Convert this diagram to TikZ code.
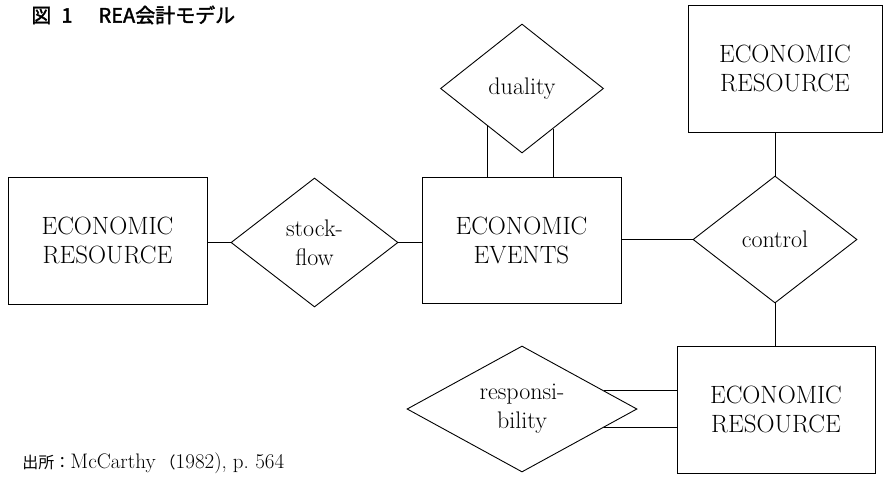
\documentclass[tikz,border=0pt]{standalone}
\usepackage{fontspec}
\newfontfamily\cjk{Noto Sans CJK JP}
\newfontfamily\cjkb{Noto Sans CJK JP}[FakeBold=2]
\usetikzlibrary{shapes.geometric,calc}
\begin{document}
\begin{tikzpicture}[x=1pt,y=-1pt, line width=0.9pt,
  ent/.style={draw, rectangle, minimum width=199pt, minimum height=127pt, inner sep=0pt, align=center, font=\fontsize{25}{29}\selectfont\addfontfeatures{FakeBold=0.5}},
  rel/.style={draw, diamond, aspect=1.3, inner sep=0pt, align=center, font=\fontsize{24}{29}\selectfont\addfontfeatures{FakeBold=0.5}}]
\useasboundingbox (0,0) rectangle (883,477);
\fill[white] (0,0) rectangle (883,477);
\node[ent] (res1) at (107.5,240.5) {ECONOMIC\\RESOURCE};
\node[rel, minimum width=167pt, minimum height=129pt] (sf) at (314.5,242.5) {stock-\\flow};
\node[ent, minimum height=126pt] (ev) at (521.5,240) {ECONOMIC\\EVENTS};
\node[rel, minimum width=163pt, minimum height=129pt] (du) at (522,88.5) {duality};
\node[ent, minimum width=194pt] (res2) at (785,68.5) {ECONOMIC\\RESOURCE};
\node[rel, minimum width=164pt, minimum height=127pt] (co) at (775,239.5) {control};
\node[ent, minimum width=198pt] (res3) at (776,409.5) {ECONOMIC\\RESOURCE};
\node[rel, aspect=1.8, minimum width=230pt, minimum height=126pt] (rs) at (522,409) {responsi-\\bility};
\draw (sf.west -| res1.east) -- (sf.west);
\draw (sf.east) -- (sf.east -| ev.west);
\draw (co.west) -- (co.west -| ev.east);
\draw (co.north) -- (co.north |- res2.south);
\draw (co.south) -- (co.south |- res3.north);
\coordinate (d1) at ($(du.south)!0.427!(du.west)$);
\coordinate (d2) at ($(du.south)!0.378!(du.east)$);
\draw (d1) -- (d1 |- ev.north);
\draw (d2) -- (d2 |- ev.north);
\coordinate (r1) at ($(rs.east)!0.286!(rs.north)$);
\coordinate (r2) at ($(rs.east)!0.286!(rs.south)$);
\draw (r1) -- (r1 -| res3.west);
\draw (r2) -- (r2 -| res3.west);
\node[anchor=west, inner sep=0pt, font=\cjkb\fontsize{20}{20}\selectfont] (title) at (31,15) {図\hspace{10pt}1\hspace{26pt}REA会計モデル};
\node[anchor=west, inner sep=0pt, font=\fontsize{21}{21}\selectfont\addfontfeatures{FakeBold=0.4}] (src) at (22,463) {{\cjk\fontsize{16}{16}\selectfont 出所：}McCarthy\hspace{4pt}{\cjk\fontsize{16}{16}\selectfont （}1982),\hspace{6pt}p.\ 564};
\end{tikzpicture}
\end{document}
